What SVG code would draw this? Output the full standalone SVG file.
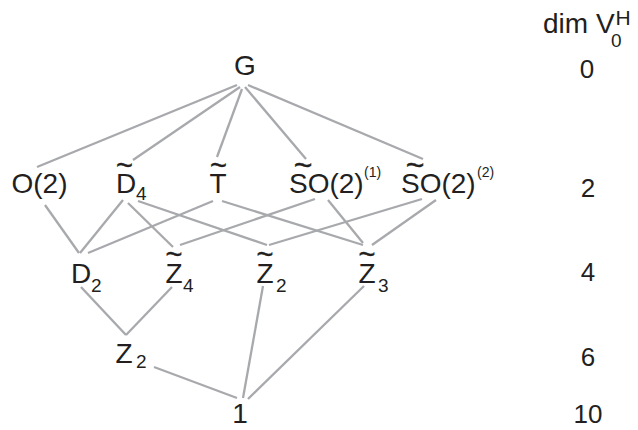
<svg xmlns="http://www.w3.org/2000/svg" width="638" height="430" viewBox="0 0 638 430">
<style>
text{font-family:"Liberation Sans",Arial,sans-serif;fill:#231f20;font-size:28px}
.sub{font-size:19px}
.sup{font-size:14px}
.t{font-size:29px;text-anchor:middle;stroke:#231f20;stroke-width:0.4}
.tw{font-size:32px;text-anchor:middle;stroke:#231f20;stroke-width:0.4}
.n{font-size:26px;text-anchor:middle}
.c line{stroke:#a7a9ac;stroke-width:2.3;fill:none}
</style>
<rect width="638" height="430" fill="#fff"/>
<g class="c" id="connectors">
<line x1="237" y1="85" x2="37" y2="167"/>
<line x1="240" y1="87" x2="133" y2="160"/>
<line x1="242" y1="89" x2="217" y2="157"/>
<line x1="245" y1="87" x2="306" y2="159"/>
<line x1="248" y1="85" x2="423" y2="159"/>
<line x1="45" y1="205" x2="79" y2="253"/>
<line x1="123" y1="200" x2="80" y2="253"/>
<line x1="128" y1="203" x2="173" y2="247"/>
<line x1="138" y1="201" x2="267" y2="245"/>
<line x1="213" y1="201" x2="88" y2="253"/>
<line x1="222" y1="201" x2="363" y2="245"/>
<line x1="315" y1="199" x2="180" y2="245"/>
<line x1="328" y1="200" x2="363" y2="243"/>
<line x1="422" y1="199" x2="269" y2="245"/>
<line x1="436" y1="200" x2="372" y2="245"/>
<line x1="81" y1="287" x2="126" y2="335"/>
<line x1="172" y1="287" x2="126" y2="335"/>
<line x1="154" y1="367" x2="237" y2="398"/>
<line x1="263" y1="286" x2="243" y2="398"/>
<line x1="364" y1="286" x2="248" y2="399"/>
</g>
<g id="G"><text x="245" y="75" text-anchor="middle">G</text></g>
<g id="O2"><text x="11.5" y="193">O(2)</text></g>
<g id="D4"><text class="t" x="124.5" y="175">~</text><text x="116" y="193">D</text><text class="sub" x="136" y="200">4</text></g>
<g id="T"><text class="t" x="218.5" y="175">~</text><text x="218" y="193" text-anchor="middle">T</text></g>
<g id="SO2a"><text class="tw" x="303" y="176">~</text><text x="289" y="193">SO(2)</text><text class="sup" x="364" y="177">(1)</text></g>
<g id="SO2b"><text class="tw" x="415" y="176">~</text><text x="401" y="193">SO(2)</text><text class="sup" x="477" y="177">(2)</text></g>
<g id="D2"><text x="71" y="283">D</text><text class="sub" x="91" y="292">2</text></g>
<g id="Z4"><text class="t" x="174" y="264">~</text><text x="165.5" y="283">Z</text><text class="sub" x="183" y="292">4</text></g>
<g id="Z2t"><text class="t" x="265" y="264">~</text><text x="256.5" y="283">Z</text><text class="sub" x="276" y="292">2</text></g>
<g id="Z3"><text class="t" x="367" y="264">~</text><text x="358.5" y="283">Z</text><text class="sub" x="378" y="292">3</text></g>
<g id="Z2"><text x="115.5" y="363">Z</text><text class="sub" x="136" y="368">2</text></g>
<g id="one"><text x="240" y="423" text-anchor="middle">1</text></g>
<g id="dim">
<text x="543" y="33">dim V</text><text class="sub" x="611" y="47">0</text><text x="615.5" y="25" style="font-size:21px">H</text>
<text class="n" x="587" y="78">0</text>
<text class="n" x="588" y="197">2</text>
<text class="n" x="588" y="281">4</text>
<text class="n" x="588" y="366">6</text>
<text class="n" x="588" y="423">10</text>
</g>
</svg>
